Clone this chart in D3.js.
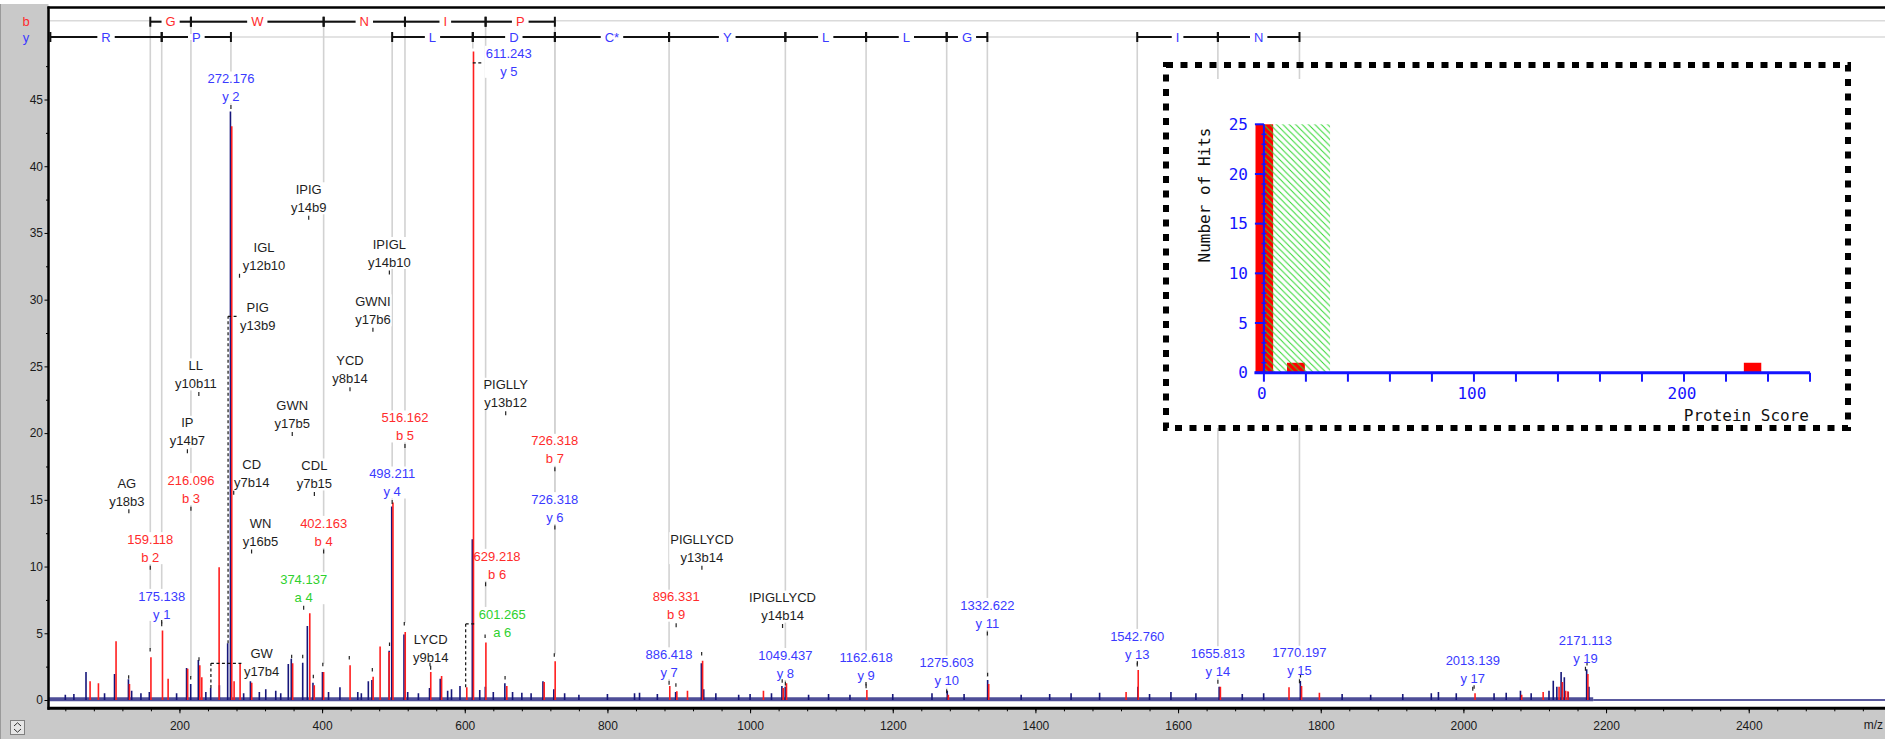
<!DOCTYPE html>
<html><head><meta charset="utf-8">
<script src="https://cdn.jsdelivr.net/npm/d3@7"></script>
<style>
html,body{margin:0;padding:0;background:#fff;overflow:hidden;}
svg{display:block;font-family:"Liberation Sans",Arial,sans-serif;}
</style></head><body>
<svg id="chart" width="1885" height="739"></svg>
<script>
// ---------------- spectrum data (m/z, relative intensity) ----------------
const spectrumPeaks = [
  [69,2.1],[109,1.95],[128.5,1.55],[133,0.7],[157.8,0.6],[210,2.4],[215.8,1.2],[226.5,3.0],
  [243.8,0.9],[256,1.1],[267.6,4.25],[271.5,44.1],[299.5,1.4],[321,0.8],[352.6,2.7],[356.8,3.1],
  [372.8,2.8],[379.3,5.55],[387.2,1.3],[400.5,2.1],[425,0.95],[464.8,1.4],[469.8,1.5],[494,3.7],
  [497.6,14.5],[514.8,4.9],[550.6,0.9],[565.6,1.6],[581.4,0.8],[593.3,1.05],[610.6,12.05],[621,0.75],
  [628.8,1.0],[656.2,1.25],[709.6,1.4],[724.8,0.8],[895.6,0.6],[931.7,2.75],[935,0.8],[1044.6,1.05],
  [1049.2,1.0],[1276.4,0.7],[1333,1.5],[1543.6,1.0],[1657.6,1.0],[1771.4,1.42],[2043,0.5],[2080,0.7],
  [2126,1.45],[2131,1.0],[2137,2.1],[2141.5,1.7],[2147,0.6],[2172.8,2.3],[2176,1.0]
];
const noisePeaks = [
  [40,0.4],[52,0.45],[95,0.5],[146,0.5],[196,0.5],[237,0.6],[290,0.5],[312,0.6],[335,0.7],[342,0.5],
  [409,0.6],[450,0.6],[455,0.5],[520,0.6],[535,0.5],[576,0.7],[640,0.6],[667,0.6],[680,0.55],[693,0.5],
  [740,0.5],[760,0.4],[800,0.45],[838,0.5],[845,0.55],[870,0.45],[952,0.5],[984,0.4],[1000,0.45],
  [1030,0.5],[1082,0.4],[1110,0.45],[1140,0.4],[1200,0.45],[1255,0.5],[1300,0.45],[1380,0.4],[1420,0.45],
  [1450,0.5],[1490,0.55],[1560,0.45],[1590,0.6],[1625,0.5],[1690,0.45],[1720,0.5],[1830,0.45],[1870,0.4],
  [1915,0.45],[1955,0.5],[1965,0.6],[1990,0.5],[2060,0.55],[2095,0.5],[2120,0.7]
];
const matchedPeaks = [
  [73.6,1.4],[85.3,1.25],[110,4.4],[128.8,1.2],[158.9,3.2],[175.1,5.2],[183,1.6],[210.4,2.35],
  [227.4,2.6],[230.2,1.7],[254.5,9.95],[272.2,43.0],[275.5,1.4],[283.9,2.75],[300.2,1.3],[357.6,2.75],
  [381.6,6.5],[387.9,1.1],[401,2.1],[438.1,2.6],[470.4,1.75],[480.2,4.0],[492.8,3.6],[498.2,14.8],
  [515.4,5.1],[551.2,2.1],[566.4,1.8],[601.7,0.95],[611.1,48.6],[628.5,4.3],[657.8,1.05],[710.2,1.35],
  [725.6,2.9],[886.3,1.05],[896.2,0.65],[911.1,0.7],[932.3,2.95],[1017.6,0.7],[1045.3,0.9],[1049.9,1.25],
  [1162.6,0.75],[1276.8,0.4],[1333.4,1.2],[1526,0.6],[1543,2.25],[1658.2,1.0],[1754.4,0.95],[1772,1.05],
  [1797,0.55],[2015.2,0.5],[2080.6,0.4],[2110.7,0.6],[2133,1.0],[2137.6,1.35],[2142.2,0.7],[2145.4,0.65],
  [2173.4,1.95]
];
const peakMarks = [
  [128.8,1.55],[158.9,3.6],[175.1,5.7],[215.8,1.5],[227.4,2.9],[357.3,3.1],[372.8,3.1],[387.7,1.6],
  [401,2.5],[438.1,3.0],[470.4,2.1],[494.5,4.0],[515.2,5.55],[551.2,2.5],[628.5,4.6],[656.5,1.5],
  [725.5,3.2],[896,0.95],[932.1,3.3],[1045,1.25],[1162.5,1.05],[1333,1.75],[1543,2.6],[1771.6,1.65],
  [2015,0.8],[2173.3,2.55]
];

// ---------------- fragment ladders ----------------
const bLadderMz = [159.118, 216.096, 402.163, 516.162, 629.218, 726.318];
const bLadderResidues = ["G", "W", "N", "I", "P"];
const yLadderSegments = [
  [19.018,175.138,"R"],[175.138,272.176,"P"],[498.211,611.243,"L"],[611.243,726.318,"D"],
  [726.318,886.418,"C*"],[886.418,1049.437,"Y"],[1049.437,1162.618,"L"],[1162.618,1275.603,"L"],
  [1275.603,1332.622,"G"],[1542.760,1655.813,"I"],[1655.813,1770.197,"N"]
];

// ---------------- ion annotations: m/z, ion, label level, peak level ----------------
const bIonLabels = [
  [159.118,"b 2",9.88,3.6],[216.096,"b 3",14.3,1.5],[402.163,"b 4",11.1,2.5],[516.162,"b 5",19.0,5.55],
  [629.218,"b 6",8.63,4.6],[726.318,"b 7",17.25,3.2],[896.331,"b 9",5.57,0.95]
];
const yIonLabels = [
  [175.138,"y 1",5.63,5.63],[272.176,"y 2",44.4,44.4],[498.211,"y 4",14.8,14.8],[726.318,"y 6",12.88,3.2],
  [886.418,"y 7",1.25,1.25],[1049.437,"y 8",1.2,1.2],[1162.618,"y 9",1.0,1.0],[1275.603,"y 10",0.62,0.62],
  [1332.622,"y 11",4.95,1.5],[1542.760,"y 13",2.63,2.63],[1655.813,"y 14",1.33,1.33],[1770.197,"y 15",1.37,1.37],
  [2013.139,"y 17",0.8,0.8],[2171.113,"y 19",2.3,2.3]
];
const aIonLabels = [[374.137,"a 4",6.88,6.88]];
// internal fragments: sequence, name, m/z, label level
const internalLabels = [
  ["IPIG","y14b9",381.24,36.1],["IGL","y12b10",284.19,31.75],["IPIGL","y14b10",494.3,32.0],
  ["GWNI","y17b6",471.23,27.7],["YCD","y8b14",439.1,23.25],["LL","y10b11",227.18,22.9],
  ["PIGLLY","y13b12",657.38,21.45],["GWN","y17b5",358.15,19.9],["IP","y14b7",211.14,18.6],
  ["CD","y7b14",276.07,15.5],["CDL","y7b15",389.15,15.4],["WN","y16b5",301.13,11.1],
  ["AG","y18b3",129.07,14.1],["LYCD","y9b14",552.2,2.38],["PIGLLYCD","y13b14",932.44,9.88],
  ["IPIGLLYCD","y14b14",1045.5,5.5]
];
// labels joined to their peak by a dashed leader: series, line 1, line 2, m/z, peak level, leader level
const leaderLabels = [
  ["y","611.243","y 5",611.243,48.6,47.75],
  ["a","601.265","a 6",601.265,0.95,5.7],
  ["i","PIG","y13b9",268.16,4.25,28.75],
  ["i","GW","y17b4",244.1,0.9,2.75]
];

// ---------------- score distribution (inset) ----------------
const scoreBins = [[-4,4.4,25],[11,19.5,1],[228.5,236.8,1]];   // from, to, hits
const thresholdScore = 31.5;
const scoreTickValues = d3.range(0, 261, 20);
const scoreLabelValues = [0, 100, 200];
const hitsLabelValues = [0, 5, 10, 15, 20, 25];

const xTickLabels = d3.range(200, 2401, 200);
const yTickLabels = d3.range(0, 46, 5);

// ---------------- layout ----------------
const W = 1885, H = 739;
const plot = {left: 48.5, top: 7.5, bottom: 708.3};
const rowB = 21.7, rowY = 37;
const colors = {b:"#ff2b2b", y:"#3a3aff", a:"#2ed12e", i:"#1e1e1e"};
const labelShift = {"b 6":11.5, "IGL":24.5, "CD":18, "WN":9, "AG":-2, "LL":-3};
const leaderLength = {"611.243":11, "601.265":11, "PIG":10, "GW":31};

const svg = d3.select("#chart");
const x = d3.scaleLinear().domain([16, 2600]).range([48.2, 36.8 + 0.7133 * 2600]);
const y = d3.scaleLinear().domain([0, 45]).range([700, 99.5]);

// window panels
svg.append("rect").attr("x",0).attr("y",0).attr("width",W).attr("height",H).attr("fill","#fff");
svg.append("rect").attr("x",0).attr("y",4).attr("width",plot.left).attr("height",H-4).attr("fill","#c9c9c9");
svg.append("rect").attr("x",0).attr("y",plot.bottom).attr("width",W).attr("height",H-plot.bottom).attr("fill","#c9c9c9");
svg.append("line").attr("x1",0.5).attr("x2",0.5).attr("y1",4).attr("y2",H).attr("stroke","#9a9a9a");

svg.append("defs").append("clipPath").attr("id","plotClip").append("rect")
  .attr("x",plot.left).attr("y",plot.top).attr("width",W-plot.left).attr("height",plot.bottom-plot.top);
const g = svg.append("g").attr("clip-path","url(#plotClip)");

// guide lines behind the ladders
[rowB-1, rowY].forEach(r => g.append("line").attr("x1",50).attr("x2",W).attr("y1",r).attr("y2",r)
  .attr("stroke","#dadada").attr("stroke-width",1.5));

// gray connectors from each ladder position down to its peak
const peakLevelOf = new Map();
bIonLabels.forEach(d => peakLevelOf.set("b"+d[0], d[3]));
yIonLabels.forEach(d => peakLevelOf.set("y"+d[0], d[3]));
leaderLabels.forEach(d => peakLevelOf.set(d[0]+d[3], d[4]));
const connectors = [];
bLadderMz.forEach(m => connectors.push({m, top: rowB, level: peakLevelOf.get("b"+m)}));
const yLadderMz = Array.from(new Set(yLadderSegments.flatMap(s => [s[0], s[1]]))).filter(m => peakLevelOf.has("y"+m));
yLadderMz.forEach(m => connectors.push({m, top: rowY, level: peakLevelOf.get("y"+m)}));
g.append("g").selectAll("line").data(connectors).join("line")
  .attr("x1",d=>x(d.m)).attr("x2",d=>x(d.m)).attr("y1",d=>d.top).attr("y2",d=>y(d.level)-3)
  .attr("stroke","#d2d2d2").attr("stroke-width",1.6);

const boxLayer = g.append("g");
const peakLayer = g.append("g");
const textLayer = g.append("g");

// baseline noise band and spectrum sticks
peakLayer.append("line").attr("x1",x(16)).attr("x2",x(2182)).attr("y1",y(0.06)).attr("y2",y(0.06))
  .attr("stroke","#22227e").attr("stroke-width",4).attr("stroke-opacity",0.8);
peakLayer.append("line").attr("x1",x(2182)).attr("x2",W).attr("y1",y(0)).attr("y2",y(0))
  .attr("stroke","#22227e").attr("stroke-width",1.5);
peakLayer.append("g").selectAll("line").data(noisePeaks.concat(spectrumPeaks)).join("line")
  .attr("x1",d=>x(d[0])).attr("x2",d=>x(d[0])).attr("y1",y(0)).attr("y2",d=>y(d[1]))
  .attr("stroke","#16167a").attr("stroke-width",1.6);
peakLayer.append("g").selectAll("line").data(matchedPeaks).join("line")
  .attr("x1",d=>x(d[0])+0.8).attr("x2",d=>x(d[0])+0.8).attr("y1",y(0)).attr("y2",d=>y(d[1]))
  .attr("stroke","#ff1e1e").attr("stroke-width",1.6);
peakLayer.append("g").selectAll("line").data(peakMarks).join("line")
  .attr("x1",d=>x(d[0])).attr("x2",d=>x(d[0])).attr("y1",d=>y(d[1])-4).attr("y2",d=>y(d[1])-0.5)
  .attr("stroke","#222").attr("stroke-width",1.2);

// annotation labels
const labels = [];
bIonLabels.forEach(d => labels.push({l1:d[0].toFixed(3), l2:d[1], c:colors.b, m:d[0], level:d[2], dx:labelShift[d[1]]||0}));
yIonLabels.forEach(d => labels.push({l1:d[0].toFixed(3), l2:d[1], c:colors.y, m:d[0], level:d[2], dx:labelShift[d[1]]||0}));
aIonLabels.forEach(d => labels.push({l1:d[0].toFixed(3), l2:d[1], c:colors.a, m:d[0], level:d[2], dx:labelShift[d[1]]||0}));
internalLabels.forEach(d => labels.push({l1:d[0], l2:d[1], c:colors.i, m:d[2], level:d[3], dx:labelShift[d[0]]||0}));

function addText(cx, cy, str, color) {
  return textLayer.append("text").attr("x",cx).attr("y",cy).attr("dy","0.36em")
    .attr("text-anchor","middle").attr("font-size",13).attr("fill",color).text(str);
}
function addBox(cx, top, w, h) {
  boxLayer.append("rect").attr("x",cx-w/2-1).attr("y",top).attr("width",w+2).attr("height",h).attr("fill","#fff");
}

labels.forEach(d => {
  const px = x(d.m), py = y(d.level), cx = px + d.dx;
  const t1 = addText(cx, py-29, d.l1, d.c);
  const t2 = addText(cx, py-11, d.l2, d.c);
  const w = Math.max(t1.node().getComputedTextLength(), t2.node().getComputedTextLength());
  addBox(cx, py-36, w, 32);
  textLayer.append("line").attr("x1",px).attr("x2",px).attr("y1",py-2.5).attr("y2",py+1.5)
    .attr("stroke","#222").attr("stroke-width",1.2);
});

leaderLabels.forEach(d => {
  const px = x(d[3]), ly = y(d[5]), len = leaderLength[d[1]];
  const c = colors[d[0]];
  const t1 = addText(0, ly-9.5, d[1], c);
  const t2 = addText(0, ly+8.5, d[2], c);
  const w = Math.max(t1.node().getComputedTextLength(), t2.node().getComputedTextLength());
  const cx = px + len + 2 + w/2;
  t1.attr("x",cx); t2.attr("x",cx);
  addBox(cx, ly-17, w, 32);
  const dash = {stroke:"#111", "stroke-width":1.2, "stroke-dasharray":"3,2.5"};
  const h = textLayer.append("line").attr("x1",px).attr("x2",px+len).attr("y1",ly).attr("y2",ly);
  Object.entries(dash).forEach(([k,v]) => h.attr(k,v));
  if (d[4] < d[5]) {
    const v = textLayer.append("line").attr("x1",px).attr("x2",px).attr("y1",y(d[4])).attr("y2",ly);
    Object.entries(dash).forEach(([k,v2]) => v.attr(k,v2));
  }
});

// fragment ladders
const ladder = g.append("g");
function drawSegment(m1, m2, res, row, color) {
  const x1 = x(m1), x2 = x(m2);
  ladder.append("line").attr("x1",x1).attr("x2",x2).attr("y1",row).attr("y2",row).attr("stroke","#111").attr("stroke-width",2);
  [x1, x2].forEach(xx => ladder.append("line").attr("x1",xx).attr("x2",xx).attr("y1",row-5).attr("y2",row+5)
    .attr("stroke","#111").attr("stroke-width",2));
  const t = ladder.append("text").attr("x",(x1+x2)/2).attr("y",row).attr("dy","0.36em").attr("text-anchor","middle")
    .attr("font-size",13).attr("fill",color).text(res);
  const w = t.node().getComputedTextLength();
  ladder.append("rect").attr("x",(x1+x2)/2-w/2-4).attr("y",row-3).attr("width",w+8).attr("height",6).attr("fill","#fff");
}
bLadderResidues.forEach((r,i) => drawSegment(bLadderMz[i], bLadderMz[i+1], r, rowB, colors.b));
yLadderSegments.forEach(s => drawSegment(s[0], s[1], s[2], rowY, colors.y));
ladder.selectAll("text").raise();

svg.append("text").attr("x",26).attr("y",rowB).attr("dy","0.36em").attr("text-anchor","middle")
  .attr("font-size",13).attr("fill",colors.b).text("b");
svg.append("text").attr("x",26).attr("y",rowY).attr("dy","0.36em").attr("text-anchor","middle")
  .attr("font-size",13).attr("fill",colors.y).text("y");

// axes
const yAxis = svg.append("g").attr("transform",`translate(${plot.left},0)`)
  .call(d3.axisLeft(y).tickValues(yTickLabels).tickSize(4).tickPadding(1.5));
yAxis.select(".domain").remove();
yAxis.selectAll("text").attr("font-size",12).attr("font-family","Liberation Sans, Arial, sans-serif").attr("fill","#1a1a1a");
const yMinor = svg.append("g").attr("transform",`translate(${plot.left},0)`)
  .call(d3.axisLeft(y).tickValues(d3.range(2.5, 50, 5)).tickSize(2.5).tickFormat(""));
yMinor.select(".domain").remove();

const xAxis = svg.append("g").attr("transform",`translate(0,${plot.bottom})`)
  .call(d3.axisBottom(x).tickValues(xTickLabels).tickSize(5).tickPadding(8).tickFormat(d3.format("d")));
xAxis.select(".domain").remove();
xAxis.selectAll("text").attr("font-size",12).attr("font-family","Liberation Sans, Arial, sans-serif").attr("fill","#1a1a1a");
const xMinor = svg.append("g").attr("transform",`translate(0,${plot.bottom})`)
  .call(d3.axisBottom(x).tickValues(d3.range(40, 2600, 40)).tickSize(3).tickFormat(""));
xMinor.select(".domain").remove();
svg.append("text").attr("x",1883).attr("y",725).attr("dy","0.36em").attr("text-anchor","end")
  .attr("font-size",12).attr("fill","#1a1a1a").text("m/z");

// plot frame
svg.append("line").attr("x1",plot.left-1).attr("x2",W).attr("y1",plot.top).attr("y2",plot.top).attr("stroke","#000").attr("stroke-width",2.5);
svg.append("line").attr("x1",plot.left).attr("x2",plot.left).attr("y1",plot.top-1).attr("y2",plot.bottom+1.5).attr("stroke","#000").attr("stroke-width",2.5);
svg.append("line").attr("x1",plot.left-1).attr("x2",W).attr("y1",plot.bottom).attr("y2",plot.bottom).attr("stroke","#000").attr("stroke-width",3);

// scroll button in the corner
svg.append("rect").attr("x",10.5).attr("y",720.5).attr("width",14).attr("height",14).attr("fill","#e6e6e6").attr("stroke","#808080");
svg.append("path").attr("d","M14,726 L17.5,722.8 L21,726 M14,729 L17.5,732.2 L21,729").attr("fill","none").attr("stroke","#333").attr("stroke-width",1);

// ---------------- inset: protein score distribution ----------------
const inset = svg.append("g");
const sx = d3.scaleLinear().domain([0, 260]).range([1263.9, 1810]);
const sy = d3.scaleLinear().domain([0, 25]).range([372.7, 124.3]);
const defs = svg.select("defs");
const pat = defs.append("pattern").attr("id","hatch").attr("patternUnits","userSpaceOnUse").attr("width",6.4).attr("height",6.4);
pat.append("path").attr("d","M0,0 L6.4,6.4 M-1.6,4.8 L1.6,8 M4.8,-1.6 L8,1.6").attr("stroke","#2fd62f").attr("stroke-width",1);

inset.append("rect").attr("x",1166).attr("y",79).attr("width",682).attr("height",349).attr("fill","#fff");
inset.selectAll("rect.bin").data(scoreBins).join("rect").attr("class","bin")
  .attr("x",d=>sx(d[0])).attr("width",d=>sx(d[1])-sx(d[0]))
  .attr("y",d=>sy(Math.min(d[2],25))).attr("height",d=>sy(0)-sy(Math.min(d[2],25)))
  .attr("fill","#ff0000");
inset.append("rect").attr("x",sx(0)).attr("width",sx(thresholdScore)-sx(0))
  .attr("y",sy(25)).attr("height",sy(0)-sy(25)).attr("fill","url(#hatch)");

const blue = "#1414ff";
inset.append("line").attr("x1",sx(-4.5)).attr("x2",sx(260)).attr("y1",sy(0)).attr("y2",sy(0)).attr("stroke",blue).attr("stroke-width",3);
inset.selectAll("line.xt").data(scoreTickValues).join("line").attr("class","xt")
  .attr("x1",d=>sx(d)).attr("x2",d=>sx(d)).attr("y1",sy(0)).attr("y2",sy(0)+9).attr("stroke",blue).attr("stroke-width",2);
inset.append("line").attr("x1",sx(0)).attr("x2",sx(0)).attr("y1",sy(0)).attr("y2",sy(25)).attr("stroke",blue).attr("stroke-width",2);
inset.selectAll("line.ym").data(d3.range(1, 25)).join("line").attr("class","ym")
  .attr("x1",sx(0)-2.5).attr("x2",sx(0)+2.5).attr("y1",d=>sy(d)).attr("y2",d=>sy(d)).attr("stroke",blue).attr("stroke-width",1.5);
inset.selectAll("line.yt").data(hitsLabelValues).join("line").attr("class","yt")
  .attr("x1",sx(0)-9).attr("x2",sx(0)).attr("y1",d=>sy(d)).attr("y2",d=>sy(d)).attr("stroke",blue).attr("stroke-width",2);

const mono = "DejaVu Sans Mono, Liberation Mono, monospace";
inset.selectAll("text.xl").data(scoreLabelValues).join("text").attr("class","xl")
  .attr("x",d=>sx(d)-2).attr("y",393).attr("dy","0.36em").attr("text-anchor","middle")
  .attr("font-family",mono).attr("font-size",16).attr("fill",blue).text(d=>d);
inset.selectAll("text.yl").data(hitsLabelValues).join("text").attr("class","yl")
  .attr("x",1248).attr("y",d=>sy(d)).attr("dy","0.36em").attr("text-anchor","end")
  .attr("font-family",mono).attr("font-size",16).attr("fill",blue).text(d=>d);
inset.append("text").attr("transform","translate(1204,195) rotate(-90)").attr("dy","0.36em").attr("text-anchor","middle")
  .attr("font-family",mono).attr("font-size",16).attr("fill","#111").text("Number of Hits");
inset.append("text").attr("x",1809).attr("y",415).attr("dy","0.36em").attr("text-anchor","end")
  .attr("font-family",mono).attr("font-size",16).attr("fill","#111").text("Protein Score");

inset.append("rect").attr("x",1166).attr("y",65).attr("width",682).attr("height",363)
  .attr("fill","none").attr("stroke","#000").attr("stroke-width",6).attr("stroke-dasharray","7,7.5");
</script>
</body></html>
